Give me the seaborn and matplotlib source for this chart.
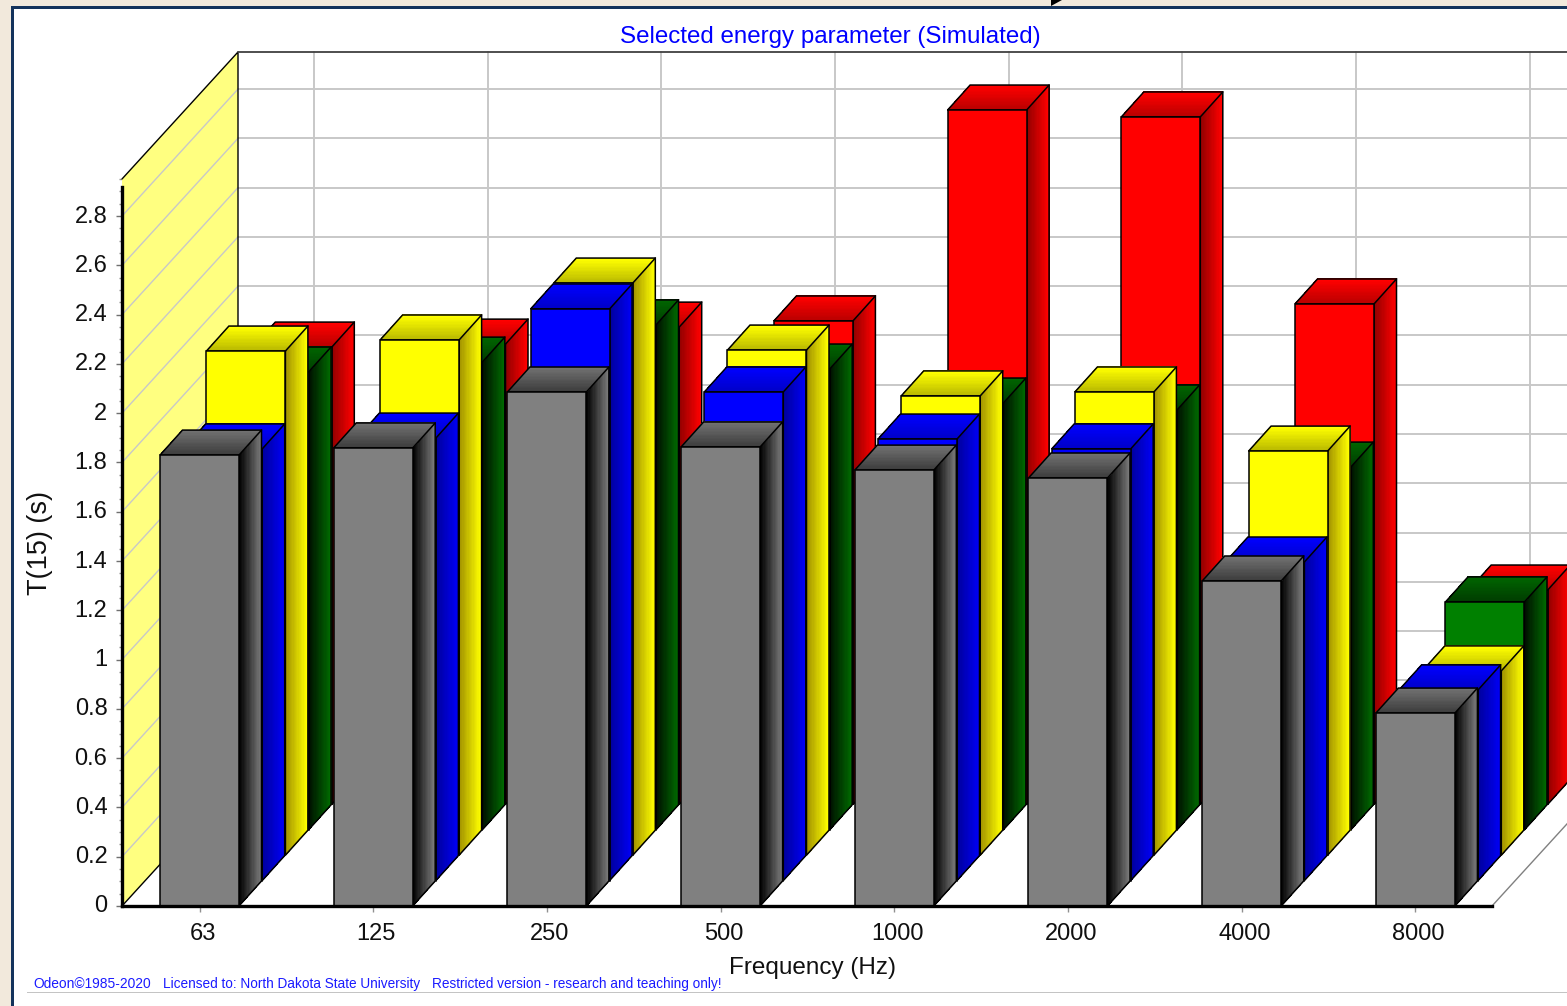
import numpy as np
import pandas as pd
import matplotlib
matplotlib.use("Agg")
import matplotlib.pyplot as plt
import seaborn as sns
from matplotlib.collections import PolyCollection
from matplotlib.patches import Polygon, Rectangle
from matplotlib.transforms import Affine2D, ScaledTranslation
from matplotlib.ticker import MultipleLocator

# ---- data -------------------------------------------------------------
freq_labels = ["63", "125", "250", "500", "1000", "2000", "4000", "8000"]
gray_vals = [1.830, 1.859, 2.086, 1.863, 1.769, 1.737, 1.319, 0.783]
blue_vals = [1.752, 1.796, 2.320, 1.983, 1.792, 1.752, 1.293, 0.774]
yellow_vals = [2.046, 2.091, 2.322, 2.050, 1.864, 1.880, 1.640, 0.748]
green_vals = [1.858, 1.898, 2.049, 1.870, 1.732, 1.704, 1.472, 0.925]
red_vals = [1.856, 1.868, 1.937, 1.962, 2.818, 2.790, 2.031, 0.870]
y_tick_values = [0, .2, .4, .6, .8, 1, 1.2, 1.4, 1.6, 1.8, 2, 2.2, 2.4, 2.6, 2.8]
y_tick_labels = ["0", "0.2", "0.4", "0.6", "0.8", "1", "1.2", "1.4", "1.6", "1.8",
                 "2", "2.2", "2.4", "2.6", "2.8"]

# series: values, front, side gradient (dark, bright), top gradient (front, back)
series = [
    (gray_vals, "#808080", "#000000", "#787878", "#3c3c3c", "#707070"),
    (blue_vals, "#0000ff", "#00009c", "#0000f4", "#0000c8", "#0000ff"),
    (yellow_vals, "#ffff00", "#a09000", "#ffff00", "#b8b800", "#ffff00"),
    (green_vals, "#008000", "#001000", "#006800", "#003c00", "#006400"),
    (red_vals, "#ff0000", "#900000", "#ff0000", "#b80000", "#ff0000"),
]

# ---- layout -----------------------------------------------------------
W, H = 1567, 1006
sns.set_theme(style="white")
plt.rcParams["font.family"] = ["Liberation Sans", "DejaVu Sans"]

fig = plt.figure(figsize=(W / 100, H / 100), dpi=100, facecolor="white")
AX_L, AX_R, AX_B, AX_T = 122, 1492, 906, 179
ax = fig.add_axes([AX_L / W, 1 - AX_B / H, (AX_R - AX_L) / W, (AX_B - AX_T) / H])
ax.patch.set_alpha(0)

PX_X = 173.7   # px per category
PX_Y = 246.4   # px per second
X0 = 199.5     # px of first category centre
xlim = ((AX_L - X0) / PX_X, (AX_R - X0) / PX_X)
ylim = (0, (AX_B - AX_T) / PX_Y)
BAR_W = 79 / PX_X
LAYER_X, LAYER_Y = 23.2 / PX_X, 25.4 / PX_Y
DEPTH_X, DEPTH_Y = 22.5 / PX_X, 25.0 / PX_Y
BACK_X, BACK_Y = 116 / PX_X, 127 / PX_Y
GRID_SHIFT = -1.5 / PX_X
N = len(freq_labels)
pos = np.arange(N)


def mix(c0, c1, n):
    a, b = np.array(matplotlib.colors.to_rgb(c0)), np.array(matplotlib.colors.to_rgb(c1))
    return [tuple(a + (b - a) * t) for t in np.linspace(0, 1, n)]


# ---- chrome -----------------------------------------------------------
BEIGE, NAVY = "#f2e9dc", "#14335c"
def frect(x, y, w, h, c, z=-5):
    fig.add_artist(Rectangle((x / W, 1 - (y + h) / H), w / W, h / H, transform=fig.transFigure,
                             facecolor=c, edgecolor="none", zorder=z))
frect(0, 0, W, 6, BEIGE)
frect(0, 0, 11, H, BEIGE)
frect(11, 6, W - 11, 3, NAVY)
frect(11, 6, 3, H - 6, NAVY)
frect(27, 992, W - 27, 1, "#c4c4c4")
fig.add_artist(Polygon([(1051 / W, 1), (1062 / W, 1), (1051 / W, 1 - 6 / H)],
                       transform=fig.transFigure, facecolor="black", edgecolor="none"))

# ---- walls ------------------------------------------------------------
GRID = "#c8c8c8"
top = ylim[1]
ax.add_patch(Polygon([(xlim[0], 0), (xlim[0], top), (xlim[0] + BACK_X, top + BACK_Y),
                      (xlim[0] + BACK_X, BACK_Y)], closed=True, facecolor="#ffff80",
                     edgecolor="none", clip_on=False, zorder=1))
for v in y_tick_values[1:]:
    ax.plot([xlim[0], xlim[0] + BACK_X], [v, v + BACK_Y], color=GRID, lw=1, clip_on=False, zorder=1.1)
    ax.plot([xlim[0] + BACK_X, xlim[1] + BACK_X], [v + BACK_Y, v + BACK_Y], color=GRID, lw=1.4,
            clip_on=False, zorder=1.1)
for p in pos:
    ax.plot([p + BACK_X + GRID_SHIFT] * 2, [BACK_Y, top + BACK_Y], color=GRID, lw=1.4, clip_on=False, zorder=1.1)
ax.plot([xlim[0], xlim[0] + BACK_X, xlim[0] + BACK_X], [top, top + BACK_Y, BACK_Y], color="black",
        lw=1, clip_on=False, zorder=1.2)
ax.plot([xlim[0], xlim[0] + BACK_X], [0, BACK_Y], color="black", lw=1, clip_on=False, zorder=1.2)
ax.plot([xlim[0] + BACK_X, xlim[1] + BACK_X], [top + BACK_Y] * 2, color="#404040", lw=1.3,
        clip_on=False, zorder=1.2)
ax.plot([xlim[1], xlim[1] + BACK_X], [0, BACK_Y], color="#808080", lw=1, clip_on=False, zorder=1.2)

# ---- bars, back layer first ---------------------------------------------
STRIPS = 18
for k in range(len(series) - 1, -1, -1):
    vals, front, s0, s1, t0, t1 = series[k]
    z = 2 + (len(series) - k)
    ox, oy = k * LAYER_X, k * LAYER_Y
    n_before = len(ax.patches)
    df = pd.DataFrame({"pos": pos, "value": vals})
    sns.barplot(data=df, x="pos", y="value", native_scale=True, width=BAR_W, color=front, saturation=1,
                edgecolor="black", linewidth=1.1, ax=ax, legend=False, errorbar=None)
    tr = Affine2D().translate(ox, oy) + ax.transData
    for p in ax.patches[n_before:]:
        p.set_transform(tr)
        p.set_clip_on(False)
        p.set_zorder(z + 0.5)
    for p0, v in zip(pos, vals):
        xr = p0 + BAR_W / 2 + ox
        xl = p0 - BAR_W / 2 + ox
        yb, yt = oy, v + oy
        # side face with horizontal gradient
        ts = np.linspace(0, 1, STRIPS + 1)
        quads = [[(xr + DEPTH_X * a, yb + DEPTH_Y * a), (xr + DEPTH_X * b, yb + DEPTH_Y * b),
                  (xr + DEPTH_X * b, yt + DEPTH_Y * b), (xr + DEPTH_X * a, yt + DEPTH_Y * a)]
                 for a, b in zip(ts[:-1], ts[1:])]
        ax.add_collection(PolyCollection(quads, facecolors=mix(s0, s1, STRIPS), edgecolors="none",
                                         antialiaseds=False, clip_on=False, zorder=z), autolim=False)
        # top face with depth gradient
        quads = [[(xl + DEPTH_X * a, yt + DEPTH_Y * a), (xr + DEPTH_X * a, yt + DEPTH_Y * a),
                  (xr + DEPTH_X * b, yt + DEPTH_Y * b), (xl + DEPTH_X * b, yt + DEPTH_Y * b)]
                 for a, b in zip(ts[:-1], ts[1:])]
        ax.add_collection(PolyCollection(quads, facecolors=mix(t0, t1, STRIPS), edgecolors="none",
                                         antialiaseds=False, clip_on=False, zorder=z), autolim=False)
        # outlines
        ax.add_patch(Polygon([(xr, yb), (xr + DEPTH_X, yb + DEPTH_Y), (xr + DEPTH_X, yt + DEPTH_Y),
                              (xl + DEPTH_X, yt + DEPTH_Y), (xl, yt), (xr, yt)], closed=True, fill=False,
                             edgecolor="black", lw=1.1, clip_on=False, zorder=z + 0.2))
        ax.plot([xr, xr + DEPTH_X], [yt, yt + DEPTH_Y], color="black", lw=1.1, clip_on=False, zorder=z + 0.2)

# ---- axes -------------------------------------------------------------
ax.set_xlim(xlim)
ax.set_ylim(ylim)
ax.grid(False)
for s in ("top", "right"):
    ax.spines[s].set_visible(False)
ax.spines["left"].set_linewidth(2.4)
ax.spines["bottom"].set_linewidth(2.4)
ax.spines["left"].set_color("black")
ax.spines["bottom"].set_color("black")
ax.spines["left"].set_bounds(0, 2.92)
ax.spines["left"].set_zorder(100)
ax.spines["bottom"].set_zorder(100)

ax.set_yticks(y_tick_values)
ax.set_yticklabels(y_tick_labels)
ax.yaxis.set_minor_locator(MultipleLocator(0.05))
ax.set_xticks(pos)
ax.set_xticklabels(freq_labels)
ax.tick_params(axis="y", which="major", left=True, length=4, width=1, color="#707070", pad=6.5,
               labelsize=17, labelcolor="#101010")
ax.tick_params(axis="y", which="minor", left=True, length=2.2, width=1, color="#909090")
ax.tick_params(axis="x", which="major", bottom=True, length=4.5, width=1, color="#909090", pad=8,
               labelsize=17, labelcolor="#101010")
shift = ScaledTranslation(3 / 100, 0, fig.dpi_scale_trans)
for lab in ax.get_xticklabels():
    lab.set_transform(lab.get_transform() + shift)
shift_y = ScaledTranslation(0, 2 / 100, fig.dpi_scale_trans)
for lab in ax.get_yticklabels():
    lab.set_transform(lab.get_transform() + shift_y)
ax.set_xlabel("")
ax.set_ylabel("")


def ftext(x, y, s, **kw):
    fig.text(x / W, 1 - y / H, s, va="center", **kw)


ftext(830, 37, "Selected energy parameter (Simulated)", ha="center", fontsize=17.4, color="#0000ff")
ftext(812, 968, "Frequency (Hz)", ha="center", fontsize=17.5, color="#101010")
ftext(40, 543, "T(15) (s)", ha="center", rotation=90, fontsize=19.5, color="#101010")
ftext(33, 984, "Odeon©1985-2020", ha="left", fontsize=9.9, color="#1a1aff")
ftext(163, 984, "Licensed to: North Dakota State University", ha="left", fontsize=9.8, color="#1a1aff")
ftext(432, 984, "Restricted version - research and teaching only!", ha="left", fontsize=9.8, color="#1a1aff")

fig.savefig("out.png", dpi=100, facecolor="white")
